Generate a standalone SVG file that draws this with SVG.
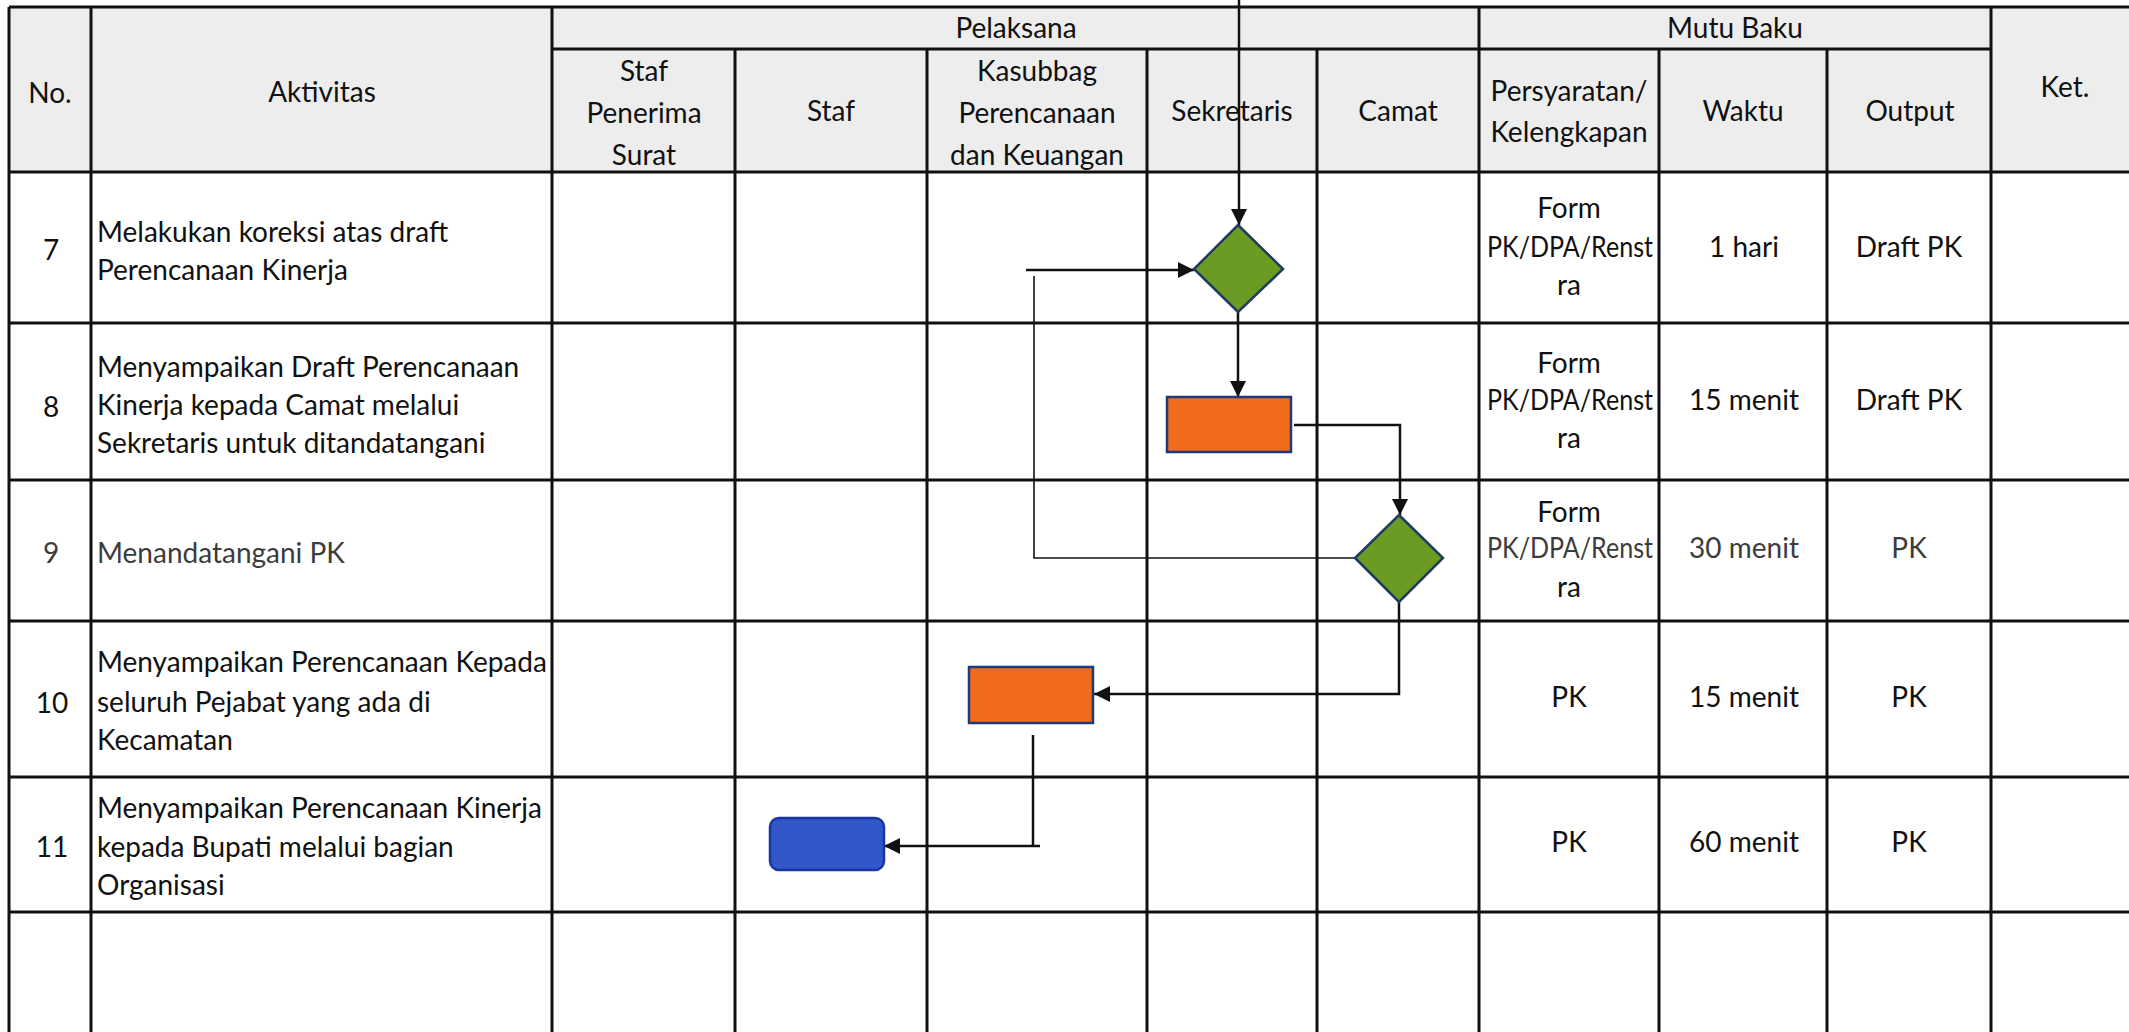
<svg xmlns="http://www.w3.org/2000/svg" width="2129" height="1032" viewBox="0 0 2129 1032">
<defs>
<style>
.t{font-family:Lato,"Noto Sans","Liberation Sans",sans-serif;font-size:28px;fill:#111}
.c{text-anchor:middle}
.g{fill:#3c3c3c}
.grid line{stroke:#111;stroke-width:3}
.conn path{fill:none;stroke:#111;stroke-width:2.5}
.conn path.thin{stroke-width:1.6}
.dia{fill:#6b9b22;stroke:#1f3b60;stroke-width:2.5}
.proc{fill:#f26a1c;stroke:#1f3a7a;stroke-width:2.5}
.term{fill:#3157c8;stroke:#1b36a0;stroke-width:2.5}
</style>
<marker id="ah" markerUnits="userSpaceOnUse" markerWidth="16" markerHeight="16" refX="16" refY="8" orient="auto">
<path d="M0,0 L16,8 L0,16 z" fill="#111"/>
</marker>
</defs>
<rect x="0" y="0" width="2129" height="1032" fill="#ffffff"/>
<rect x="9" y="7" width="2120" height="165" fill="#ededed"/>

<g id="grid" class="grid">
<line x1="9" y1="7" x2="2129" y2="7"/>
<line x1="552" y1="49" x2="1991" y2="49"/>
<line x1="9" y1="172" x2="2129" y2="172"/>
<line x1="9" y1="323" x2="2129" y2="323"/>
<line x1="9" y1="480" x2="2129" y2="480"/>
<line x1="9" y1="621" x2="2129" y2="621"/>
<line x1="9" y1="777" x2="2129" y2="777"/>
<line x1="9" y1="912" x2="2129" y2="912"/>
<line x1="9" y1="7" x2="9" y2="1032"/>
<line x1="91" y1="7" x2="91" y2="1032"/>
<line x1="552" y1="7" x2="552" y2="1032"/>
<line x1="735" y1="49" x2="735" y2="1032"/>
<line x1="927" y1="49" x2="927" y2="1032"/>
<line x1="1147" y1="49" x2="1147" y2="1032"/>
<line x1="1317" y1="49" x2="1317" y2="1032"/>
<line x1="1479" y1="7" x2="1479" y2="1032"/>
<line x1="1659" y1="49" x2="1659" y2="1032"/>
<line x1="1827" y1="49" x2="1827" y2="1032"/>
<line x1="1991" y1="7" x2="1991" y2="1032"/>
</g>

<g id="header">
<text class="t c" x="50" y="103">No.</text>
<text class="t c" x="322" y="102">Aktivitas</text>
<text class="t c" x="1016" y="38">Pelaksana</text>
<text class="t c" x="1735" y="38">Mutu Baku</text>
<text class="t c" x="644" y="81">Staf</text>
<text class="t c" x="644" y="123">Penerima</text>
<text class="t c" x="644" y="165">Surat</text>
<text class="t c" x="831" y="121">Staf</text>
<text class="t c" x="1037" y="81">Kasubbag</text>
<text class="t c" x="1037" y="123">Perencanaan</text>
<text class="t c" x="1037" y="165">dan Keuangan</text>
<text class="t c" x="1232" y="121">Sekretaris</text>
<text class="t c" x="1398" y="121">Camat</text>
<text class="t c" x="1569" y="101">Persyaratan/</text>
<text class="t c" x="1569" y="142">Kelengkapan</text>
<text class="t c" x="1743" y="121">Waktu</text>
<text class="t c" x="1910" y="121">Output</text>
<text class="t c" x="2065" y="97">Ket.</text>
</g>

<g id="row7">
<text class="t c" x="51" y="260">7</text>
<text class="t" x="97" y="242">Melakukan koreksi atas draft</text>
<text class="t" x="97" y="280">Perencanaan Kinerja</text>
<text class="t c" x="1569" y="218">Form</text>
<text class="t c" x="1570" y="257" textLength="166" lengthAdjust="spacingAndGlyphs">PK/DPA/Renst</text>
<text class="t c" x="1569" y="295">ra</text>
<text class="t c" x="1744" y="257">1 hari</text>
<text class="t c" x="1909" y="257">Draft PK</text>
</g>

<g id="row8">
<text class="t c" x="51" y="417">8</text>
<text class="t" x="97" y="377">Menyampaikan Draft Perencanaan</text>
<text class="t" x="97" y="415">Kinerja kepada Camat melalui</text>
<text class="t" x="97" y="453">Sekretaris untuk ditandatangani</text>
<text class="t c" x="1569" y="373">Form</text>
<text class="t c" x="1570" y="410" textLength="166" lengthAdjust="spacingAndGlyphs">PK/DPA/Renst</text>
<text class="t c" x="1569" y="448">ra</text>
<text class="t c" x="1744" y="410">15 menit</text>
<text class="t c" x="1909" y="410">Draft PK</text>
</g>

<g id="row9">
<text class="t c g" x="51" y="563">9</text>
<text class="t g" x="97" y="563">Menandatangani PK</text>
<text class="t c" x="1569" y="522">Form</text>
<text class="t c g" x="1570" y="558" textLength="166" lengthAdjust="spacingAndGlyphs">PK/DPA/Renst</text>
<text class="t c" x="1569" y="597">ra</text>
<text class="t c g" x="1744" y="558">30 menit</text>
<text class="t c g" x="1909" y="558">PK</text>
</g>

<g id="row10">
<text class="t c" x="52" y="713">10</text>
<text class="t" x="97" y="672">Menyampaikan Perencanaan Kepada</text>
<text class="t" x="97" y="712">seluruh Pejabat yang ada di</text>
<text class="t" x="97" y="750">Kecamatan</text>
<text class="t c" x="1569" y="707">PK</text>
<text class="t c" x="1744" y="707">15 menit</text>
<text class="t c" x="1909" y="707">PK</text>
</g>

<g id="row11">
<text class="t c" x="52" y="857">11</text>
<text class="t" x="97" y="818">Menyampaikan Perencanaan Kinerja</text>
<text class="t" x="97" y="857">kepada Bupati melalui bagian</text>
<text class="t" x="97" y="895">Organisasi</text>
<text class="t c" x="1569" y="852">PK</text>
<text class="t c" x="1744" y="852">60 menit</text>
<text class="t c" x="1909" y="852">PK</text>
</g>

<g id="connectors" class="conn">
<path d="M1239,0 V225" marker-end="url(#ah)"/>
<path d="M1238,312 V397" marker-end="url(#ah)"/>
<path d="M1294,425 H1400 V515" marker-end="url(#ah)"/>
<path d="M1399,602 V694 H1094" marker-end="url(#ah)"/>
<path d="M1033,735 V846"/>
<path d="M1040,846 H884" marker-end="url(#ah)"/>
<path class="thin" d="M1355,558 H1034 V276"/>
<path d="M1026,270 H1194" marker-end="url(#ah)"/>
</g>

<g id="node-d1"><polygon class="dia" points="1238,225 1283,269 1238,312 1194,269"/></g>
<g id="node-p1"><rect class="proc" x="1167" y="397" width="124" height="55"/></g>
<g id="node-d2"><polygon class="dia" points="1399,515 1443,558 1399,602 1355,558"/></g>
<g id="node-p2"><rect class="proc" x="969" y="667" width="124" height="56"/></g>
<g id="node-t1"><rect class="term" x="770" y="818" width="114" height="52" rx="9"/></g>
</svg>
